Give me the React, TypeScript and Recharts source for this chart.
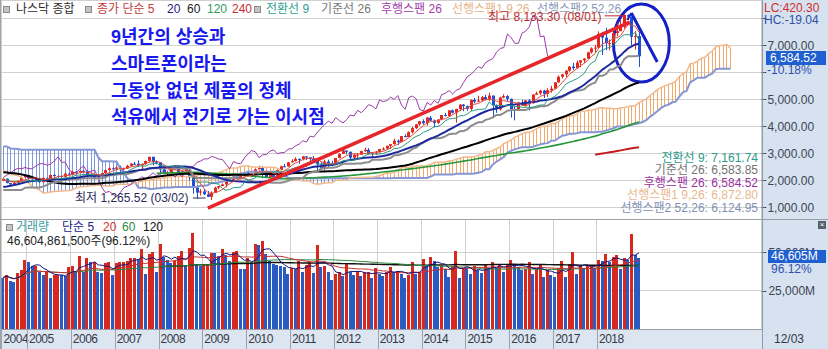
import React from "react";
import {
  Bar,
  CartesianGrid,
  ComposedChart,
  Line,
  ReferenceArea,
  ReferenceLine,
  XAxis,
  YAxis,
} from "recharts";

// 과거 구간 1998-01 ~ 2004-05 : 이평선 / 일목균형표 계산에만 쓰인다
const preHigh = [
  1621, 1776, 1840, 1912, 1868, 1897, 2014, 1880, 1761, 1772, 1955, 2200,
  2533, 2538, 2488, 2652, 2626, 2693, 2864, 2740, 2887, 2973, 3451, 4091,
  4303, 4697, 5132, 4573, 3817, 4006, 4290, 4234, 4259, 3757, 3478, 2978,
  2892, 2759, 2283, 2217, 2313, 2173, 2173, 2035, 1842, 1771, 1942, 2098,
  2059, 1926, 1929, 1863, 1721, 1667, 1496, 1427, 1344, 1346, 1494, 1522,
  1467, 1374, 1425, 1473, 1610, 1683, 1754, 1814, 1907, 1942, 1971, 2011,
  2153, 2089, 2057, 2079, 2005,
];
const preLow = [
  1465, 1617, 1735, 1820, 1743, 1748, 1852, 1460, 1560, 1357, 1765, 1895,
  2174, 2240, 2254, 2404, 2356, 2383, 2638, 2491, 2680, 2622, 2966, 3366,
  3712, 3885, 4407, 3227, 3042, 3390, 3644, 3686, 3569, 3026, 2561, 2288,
  2251, 2151, 1794, 1619, 2035, 1973, 1960, 1791, 1387, 1480, 1685, 1904,
  1893, 1696, 1713, 1672, 1562, 1375, 1206, 1192, 1160, 1108, 1317, 1320,
  1320, 1271, 1253, 1336, 1448, 1566, 1623, 1658, 1760, 1785, 1879, 1901,
  2002, 2005, 1898, 1915, 1876,
];
const preClose = [
  1619, 1771, 1836, 1868, 1779, 1895, 1872, 1499, 1694, 1771, 1950, 2193,
  2506, 2288, 2461, 2543, 2471, 2686, 2638, 2739, 2746, 2966, 3336, 4069,
  3940, 4697, 4573, 3861, 3401, 3966, 3767, 4206, 3673, 3370, 2598, 2471,
  2773, 2152, 1840, 2116, 2110, 2161, 2027, 1805, 1499, 1690, 1931, 1950,
  1934, 1731, 1845, 1688, 1616, 1463, 1328, 1315, 1172, 1330, 1479, 1336,
  1321, 1338, 1341, 1464, 1596, 1623, 1735, 1810, 1787, 1932, 1960, 2003,
  2066, 2030, 1994, 1920, 1987,
];

// 화면 구간 2004-06 ~ 2018-12 월봉 (나스닥 종합)
const open = [
  1987, 2048, 1887, 1838, 1897, 1975, 2097,
  2175, 2062, 2052, 1999, 1922, 2068, 2057, 2185, 2152, 2152, 2120, 2233,
  2205, 2306, 2281, 2340, 2323, 2179, 2172, 2091, 2184, 2258, 2367, 2432,
  2415, 2464, 2416, 2422, 2525, 2605, 2603, 2546, 2596, 2702, 2859, 2661,
  2652, 2390, 2271, 2279, 2413, 2523, 2293, 2326, 2368, 2092, 1721, 1536,
  1577, 1476, 1378, 1529, 1717, 1774, 1835, 1979, 2009, 2122, 2045, 2145,
  2269, 2147, 2238, 2398, 2461, 2257, 2109, 2255, 2114, 2369, 2507, 2498,
  2653, 2700, 2782, 2781, 2874, 2835, 2774, 2756, 2579, 2415, 2684, 2620,
  2605, 2814, 2967, 3092, 3046, 2827, 2935, 2940, 3067, 3116, 2977, 3010,
  3020, 3142, 3160, 3268, 3329, 3456, 3403, 3626, 3590, 3771, 3920, 4060,
  4177, 4104, 4308, 4199, 4115, 4243, 4408, 4370, 4580, 4493, 4631, 4792,
  4736, 4635, 4964, 4901, 4941, 5070, 4987, 5128, 4777, 4620, 5054, 5109,
  5007, 4614, 4558, 4870, 4775, 4948, 4843, 5162, 5213, 5312, 5189, 5324,
  5383, 5615, 5825, 5912, 6048, 6199, 6140, 6348, 6429, 6496, 6728, 6874,
  6903, 7411, 7273, 7063, 7066, 7442, 7510, 7672, 8110, 8046, 7306, 7331,
];
const high = [
  2057, 2064, 1887, 1925, 1983, 2104, 2178,
  2191, 2096, 2084, 2010, 2102, 2098, 2198, 2219, 2179, 2163, 2272, 2278,
  2333, 2310, 2341, 2375, 2352, 2196, 2180, 2184, 2274, 2379, 2468, 2470,
  2509, 2531, 2454, 2561, 2626, 2670, 2724, 2613, 2716, 2861, 2861, 2725,
  2661, 2419, 2343, 2429, 2551, 2549, 2357, 2473, 2421, 2099, 1810, 1665,
  1667, 1592, 1582, 1749, 1775, 1876, 1980, 2042, 2167, 2190, 2195, 2295,
  2326, 2243, 2423, 2535, 2517, 2359, 2283, 2302, 2382, 2532, 2592, 2671,
  2766, 2840, 2799, 2887, 2875, 2834, 2887, 2754, 2664, 2755, 2753, 2715,
  2818, 2983, 3134, 3094, 3051, 2946, 2982, 3083, 3196, 3183, 3024, 3070,
  3154, 3213, 3270, 3332, 3532, 3502, 3631, 3694, 3799, 3970, 4069, 4177,
  4246, 4342, 4371, 4243, 4248, 4409, 4486, 4580, 4611, 4641, 4810, 4815,
  4766, 4984, 5042, 5119, 5111, 5160, 5232, 5119, 4800, 5085, 5176, 5143,
  5013, 4714, 4897, 4970, 4965, 5000, 5180, 5271, 5343, 5342, 5399, 5487,
  5620, 5867, 5929, 6075, 6219, 6342, 6422, 6445, 6507, 6749, 6914, 7004,
  7505, 7489, 7637, 7210, 7479, 7806, 7933, 8133.3, 8133, 8048, 7522, 7486,
];
const low = [
  1962, 1876, 1750, 1822, 1889, 1967, 2078,
  2030, 2030, 1984, 1890, 1914, 2043, 2051, 2133, 2090, 2026, 2109, 2200,
  2190, 2233, 2260, 2296, 2119, 2065, 2012, 2056, 2165, 2243, 2344, 2400,
  2395, 2310, 2331, 2412, 2505, 2557, 2490, 2386, 2555, 2673, 2539, 2575,
  2202, 2252, 2155, 2276, 2388, 2290, 2167, 2316, 1983, 1493, 1295, 1428,
  1440, 1371, 1265.52, 1525, 1656, 1781, 1727, 1960, 1990, 2024, 2020, 2154,
  2140, 2100, 2240, 2396, 2061, 2090, 2091, 2100, 2113, 2356, 2475, 2498,
  2652, 2687, 2603, 2730, 2738, 2629, 2707, 2298, 2380, 2335, 2441, 2519,
  2603, 2802, 2958, 2950, 2726, 2747, 2811, 2929, 3044, 2940, 2810, 2939,
  3020, 3104, 3160, 3154, 3313, 3294, 3403, 3584, 3591, 3725, 3897, 4008,
  4052, 4007, 4174, 3946, 4070, 4213, 4355, 4349, 4465, 4116.6, 4567, 4547,
  4563, 4563, 4842, 4897, 4931, 4948, 4924, 4292, 4487, 4569, 5026, 4906,
  4313, 4209.76, 4555, 4770, 4714, 4574, 4834, 5153, 5148, 5034, 5071, 5236,
  5383, 5605, 5762, 5802, 6007, 6083, 6126, 6177, 6336, 6500, 6681, 6733,
  6903, 6630, 6804, 6805, 7043, 7330, 7512, 7609, 7924, 6987, 6830, 6190,
];
const close = [
  2048, 1887, 1838, 1897, 1975, 2097, 2175,
  2062, 2052, 1999, 1922, 2068, 2057, 2185, 2152, 2152, 2120, 2233, 2205,
  2306, 2281, 2340, 2323, 2179, 2172, 2091, 2184, 2258, 2367, 2432, 2415,
  2464, 2416, 2422, 2525, 2605, 2603, 2546, 2596, 2702, 2859, 2661, 2652,
  2390, 2271, 2279, 2413, 2523, 2293, 2326, 2368, 2092, 1721, 1536, 1577,
  1476, 1378, 1529, 1717, 1774, 1835, 1979, 2009, 2122, 2045, 2145, 2269,
  2147, 2238, 2398, 2461, 2257, 2109, 2255, 2114, 2369, 2507, 2498, 2653,
  2700, 2782, 2781, 2874, 2835, 2774, 2756, 2579, 2415, 2684, 2620, 2605,
  2814, 2967, 3092, 3046, 2827, 2935, 2940, 3067, 3116, 2977, 3010, 3020,
  3142, 3160, 3268, 3329, 3456, 3403, 3626, 3590, 3771, 3920, 4060, 4177,
  4104, 4308, 4199, 4115, 4243, 4408, 4370, 4580, 4493, 4631, 4792, 4736,
  4635, 4964, 4901, 4941, 5070, 4987, 5128, 4777, 4620, 5054, 5109, 5007,
  4614, 4558, 4870, 4775, 4948, 4843, 5162, 5213, 5312, 5189, 5324, 5383,
  5615, 5825, 5912, 6048, 6199, 6140, 6348, 6429, 6496, 6728, 6874, 6903,
  7411, 7273, 7063, 7066, 7442, 7510, 7672, 8110, 8046, 7306, 7331, 6584.52,
];

// 월 거래량 (백만주)
const volume = [
  33600, 35300, 31400, 31000, 36400, 38600, 45200, 43700, 40800, 41200,
  37500, 35300, 37500, 33100, 35300, 35500, 35000, 34600, 40200, 41000,
  37500, 47800, 37500, 46300, 43700, 44000, 37500, 36800, 43000, 43500,
  35300, 43000, 43700, 43800, 44100, 46300, 46400, 46000, 52400, 35800,
  48900, 50200, 37500, 55700, 46700, 45200, 43000, 44100, 47400, 51100,
  41900, 52900, 62700, 42300, 40800, 42300, 42400, 49600,
  49500, 47400, 52400, 48500, 44500, 50200, 51100, 39300, 39200, 46300,
  43700, 55700, 55100, 57700, 48900, 44100, 42300, 41900, 40800, 40700,
  35800, 39700, 39300, 44500, 37500, 41500, 43700, 36400, 55100, 40500,
  40800, 37100, 32000, 35800, 37500, 34900, 42300, 37500, 35300, 38000,
  34900, 37100, 37200, 33600, 39700, 35800, 34900, 37100, 40200, 37500,
  37600, 35800, 33100, 35300, 43700, 35800, 37500, 45900, 40800,
  47000, 44500, 40200, 40800, 39300, 33800, 40800, 50700, 33100, 39700,
  39600, 35800, 40800, 38600, 36400, 41500, 39700, 43700, 39700, 41900,
  37500, 41500, 45200, 41900, 40200, 38600, 39300, 43700, 35800, 39300,
  41500, 34200, 38600, 35300, 34200, 39700, 44500, 33800, 42300, 50200,
  35800, 41500, 39700, 41900, 42000, 39700, 45200, 44100, 48900, 43700,
  47000, 48500, 39300, 46300, 45200, 62000, 48486, 46605,
];

const yearLabels = [
  "2004", "2005", "2006", "2007", "2008", "2009", "2010", "2011",
  "2012", "2013", "2014", "2015", "2016", "2017", "2018",
];
const priceTicks = [1000, 2000, 3000, 4000, 5000, 6000, 7000, 8000];
const volumeTicks = [25000, 50000];

const SLOTS = 208; // 선행스팬 26개월 공간까지
const SHIFT = 25;
const PRE = preClose.length;
const fullH = [...preHigh, ...high];
const fullL = [...preLow, ...low];
const fullC = [...preClose, ...close];

const NUM = "'Liberation Sans', Arial, sans-serif";
const KR = "'Liberation Sans', 'Noto Sans CJK KR', sans-serif";

function sma(arr: number[], n: number, i: number) {
  if (i - n + 1 < 0 || i >= arr.length) return null;
  let s = 0;
  for (let k = i - n + 1; k <= i; k++) s += arr[k];
  return s / n;
}

function midHL(n: number, i: number) {
  if (i - n + 1 < 0 || i >= fullH.length) return null;
  let hi = -Infinity;
  let lo = Infinity;
  for (let k = i - n + 1; k <= i; k++) {
    hi = Math.max(hi, fullH[k]);
    lo = Math.min(lo, fullL[k]);
  }
  return (hi + lo) / 2;
}

// 거래량 이평: 앞쪽은 있는 만큼만 평균
function volMa(n: number, v: number, minCount: number) {
  if (v >= volume.length) return null;
  const from = Math.max(0, v - n + 1);
  if (v - from + 1 < minCount) return null;
  let s = 0;
  for (let k = from; k <= v; k++) s += volume[k];
  return s / (v - from + 1);
}

const monthOf = (v: number) => ((v + 5) % 12) + 1;

const rows = Array.from({ length: SLOTS }, (_, v) => {
  const f = v + PRE;
  const has = v < close.length;
  const c9 = midHL(9, f - SHIFT);
  const b26 = midHL(26, f - SHIFT);
  const s1 = c9 != null && b26 != null ? (c9 + b26) / 2 : null;
  const s2 = midHL(52, f - SHIFT);
  return {
    i: v,
    o: has ? open[v] : null,
    h: has ? high[v] : null,
    l: has ? low[v] : null,
    c: has ? close[v] : null,
    hl: has ? [low[v], high[v]] : null,
    ma5: has ? sma(fullC, 5, f) : null,
    ma20: has ? sma(fullC, 20, f) : null,
    ma60: has ? sma(fullC, 60, f) : null,
    ma120: has ? sma(fullC, 120, f) : null,
    ma240: has ? sma(fullC, 240, f) : null,
    conv: has ? midHL(9, f) : null,
    base: has ? midHL(26, f) : null,
    lag: f + SHIFT < fullC.length ? fullC[f + SHIFT] : null,
    s1,
    s2,
    cloud: s1 != null && s2 != null ? [Math.min(s1, s2), Math.max(s1, s2)] : null,
    cloudUp: s1 != null && s2 != null && s1 >= s2,
    vol: has ? volume[v] : null,
    volUp: has && v > 0 && volume[v] >= volume[v - 1],
    v5: volMa(5, v, 1),
    v20: volMa(20, v, 1),
    v60: volMa(60, v, 1),
    v120: volMa(120, v, 44),
  };
});

const yearTicks = rows
  .filter((r) => r.i === 0 || monthOf(r.i) === 1)
  .map((r) => r.i - 0.5)
  .slice(0, yearLabels.length);

const priceMinor: number[] = [];
for (let p = 750; p <= 8500; p += 250) priceMinor.push(p);
const volMinor: number[] = [];
for (let p = 6250; p <= 68750; p += 6250) volMinor.push(p);

const PRICE_DOMAIN = [555.6, 8666.7];
const VOL_DOMAIN = [0, 71800];
const X_DOMAIN = [-0.5, SLOTS - 0.5];

const fmt2 = (v: number) =>
  v.toLocaleString("en-US", { minimumFractionDigits: 2, maximumFractionDigits: 2 });

function PriceTick(props: any) {
  const { x, y, payload } = props;
  const v = payload.value;
  const show = v !== 6000 && v !== 8000;
  return (
    <g>
      <line x1={x} x2={x + 5} y1={Math.round(y) + 0.5} y2={Math.round(y) + 0.5} stroke="#4a5162" />
      {show && (
        <text x={x + 6} y={y + 4.5} fontSize={12} fill="#3e4455" fontFamily={NUM}>
          {fmt2(v)}
        </text>
      )}
    </g>
  );
}

function VolTick(props: any) {
  const { x, y, payload } = props;
  return (
    <g>
      <line x1={x} x2={x + 5} y1={Math.round(y) + 0.5} y2={Math.round(y) + 0.5} stroke="#4a5162" />
      <text x={x + 7} y={y + 4.5} fontSize={12} fill="#3e4455" fontFamily={NUM}>
        {payload.value.toLocaleString("en-US")}M
      </text>
    </g>
  );
}

function MinorTick(props: any) {
  const { x, y } = props;
  return <line x1={x} x2={x + 3} y1={Math.round(y) + 0.5} y2={Math.round(y) + 0.5} stroke="#6a7384" />;
}

function YearTick(props: any) {
  const { x, y, payload } = props;
  const idx = yearTicks.indexOf(payload.value);
  const xx = Math.round(x) + 0.5;
  return (
    <g>
      <line x1={xx} x2={xx} y1={y} y2={y + 20} stroke="#98a2b2" />
      <text x={x + 2} y={y + 14} fontSize={12} fill="#333a48" fontFamily={NUM} letterSpacing={-0.5}>
        {yearLabels[idx] ?? ""}
      </text>
    </g>
  );
}

function Candle(props: any) {
  const { x, y, width, height, payload } = props;
  if (!payload || payload.c == null || !isFinite(y)) return null;
  const { o, h, l, c } = payload;
  const span = h - l || 1;
  const py = (val: number) => y + ((h - val) / span) * height;
  const cx = Math.round(x + width / 2) + 0.5;
  const up = c >= o;
  const color = up ? "#e5261d" : "#1f4fd4";
  const top = Math.min(py(o), py(c));
  const bh = Math.max(1, Math.abs(py(o) - py(c)));
  return (
    <g>
      <line x1={cx} x2={cx} y1={y} y2={y + height} stroke={color} />
      <rect x={cx - 1.5} y={top} width={3} height={bh} fill={color} />
    </g>
  );
}

function Hatch(props: any) {
  const { x, y, width, height, payload } = props;
  if (!payload || !payload.cloud || !isFinite(y)) return null;
  const cx = Math.round(x + width / 2) + 0.5;
  return (
    <line
      x1={cx}
      x2={cx}
      y1={y}
      y2={y + height}
      stroke={payload.cloudUp ? "#f2aa6c" : "#7f98d8"}
      shapeRendering="crispEdges"
    />
  );
}

function VolBar(props: any) {
  const { x, y, width, height, payload } = props;
  if (!payload || payload.vol == null || !isFinite(y)) return null;
  const left = Math.round(x + width / 2 - 1.5);
  return (
    <rect
      x={left}
      y={y}
      width={3}
      height={height}
      fill={payload.volUp ? "#d8281e" : "#2a5bc2"}
      shapeRendering="crispEdges"
    />
  );
}

const Ellipse = (p: any) => (
  <ellipse
    cx={p.x + p.width / 2}
    cy={p.y + p.height / 2}
    rx={Math.abs(p.width / 2)}
    ry={Math.abs(p.height / 2)}
    fill="none"
    stroke="#1220c6"
    strokeWidth={3}
  />
);

const css = `
.crisp .recharts-cartesian-grid line { shape-rendering: crispEdges; }
`;

const abs = (left: number, top: number, extra: React.CSSProperties = {}): React.CSSProperties => ({
  position: "absolute",
  left,
  top,
  whiteSpace: "nowrap",
  fontSize: 12,
  lineHeight: "14px",
  ...extra,
});

const Sq = ({ left, top }: { left: number; top: number }) => (
  <div
    style={{
      position: "absolute",
      left,
      top,
      width: 5,
      height: 5,
      background: "#c4c4c4",
      border: "1px solid #8a8a8a",
    }}
  />
);

const lineProps = { dot: false, isAnimationActive: false, type: "linear" as const, activeDot: false };

export default function App() {
  return (
    <div
      style={{
        position: "absolute",
        left: 0,
        top: 0,
        width: 828,
        height: 349,
        background: "#ffffff",
        overflow: "hidden",
        fontFamily: KR,
      }}
    >
      <style>{css}</style>
      <div style={{ position: "absolute", left: 762, top: 0, width: 66, height: 349, background: "#d6e2ef" }} />
      <div style={{ position: "absolute", left: 0, top: 329, width: 762, height: 20, background: "#dce5f0" }} />

      <div className="crisp" style={{ position: "absolute", left: 0, top: 0 }}>
        <ComposedChart width={828} height={219} data={rows} margin={{ top: 0, right: 0, bottom: 0, left: 1.4 }}>
          <CartesianGrid stroke="#d0d0d0" />
          <XAxis
            dataKey="i"
            type="number"
            domain={X_DOMAIN}
            ticks={yearTicks}
            interval={0}
            height={0}
            tick={false}
            axisLine={false}
            tickLine={false}
            allowDataOverflow
          />
          <XAxis xAxisId="c" dataKey="i" type="number" domain={X_DOMAIN} hide allowDataOverflow />
          <YAxis
            yAxisId="m"
            orientation="right"
            width={0}
            domain={PRICE_DOMAIN}
            ticks={priceMinor}
            interval={0}
            tick={<MinorTick />}
            tickSize={0}
            tickMargin={0}
            axisLine={false}
            tickLine={false}
            allowDataOverflow
          />
          <YAxis
            orientation="right"
            width={66.6}
            domain={PRICE_DOMAIN}
            ticks={priceTicks}
            interval={0}
            tick={<PriceTick />}
            tickSize={0}
            tickMargin={0}
            axisLine={false}
            tickLine={false}
            allowDataOverflow
          />

          <Bar dataKey={(r: any) => r.cloud} barSize={1} shape={<Hatch />} isAnimationActive={false} />
          <Line dataKey="s2" stroke="#8496d6" strokeWidth={2} {...lineProps} />
          <Line dataKey="s1" stroke="#f2b98c" strokeWidth={1.5} {...lineProps} />
          <Line dataKey="lag" stroke="#9a3aa8" strokeWidth={1} {...lineProps} />
          <Line dataKey="ma120" stroke="#27973a" strokeWidth={1.6} {...lineProps} />
          <Line dataKey="ma240" stroke="#c41c1c" strokeWidth={2} {...lineProps} />
          <Line dataKey="ma60" stroke="#000000" strokeWidth={2} {...lineProps} />
          <Line dataKey="base" stroke="#8c8c8c" strokeWidth={2} {...lineProps} />
          <Line dataKey="ma20" stroke="#1c2a9e" strokeWidth={2} {...lineProps} />
          <Line dataKey="conv" stroke="#2b9b82" strokeWidth={1} {...lineProps} />
          <Line dataKey="ma5" stroke="#e24a3a" strokeWidth={1} {...lineProps} />
          <Bar
            xAxisId="c"
            dataKey={(r: any) => r.hl}
            barSize={3}
            shape={<Candle />}
            isAnimationActive={false}
          />

          <ReferenceLine
            segment={[{ x: 56, y: 960 }, { x: 171.5, y: 7850 }]}
            stroke="#e6262b"
            strokeWidth={3.5}
            ifOverflow="visible"
          />
          <ReferenceLine
            segment={[{ x: 164.6, y: 8080 }, { x: 169.8, y: 8080 }]}
            stroke="#c0282c"
            strokeWidth={1}
            ifOverflow="visible"
          />
          <ReferenceLine
            segment={[{ x: 51.9, y: 1333 }, { x: 55.4, y: 1333 }]}
            stroke="#282858"
            strokeWidth={1}
            ifOverflow="visible"
          />
          <ReferenceArea x1={167} x2={182.3} y1={5630} y2={8519} ifOverflow="visible" shape={Ellipse} />
          <ReferenceLine
            segment={[{ x: 171.9, y: 8185 }, { x: 179, y: 6370 }]}
            stroke="#1220c6"
            strokeWidth={3}
            ifOverflow="visible"
          />
          <ReferenceLine
            segment={[{ x: 171.9, y: 8185 }, { x: 170.8, y: 7926 }]}
            stroke="#1220c6"
            strokeWidth={2}
            ifOverflow="visible"
          />
        </ComposedChart>
      </div>

      <div className="crisp" style={{ position: "absolute", left: 0, top: 219 }}>
        <ComposedChart width={828} height={130} data={rows} margin={{ top: 0, right: 0, bottom: 0, left: 1.4 }}>
          <CartesianGrid stroke="#d0d0d0" />
          <XAxis
            dataKey="i"
            type="number"
            domain={X_DOMAIN}
            ticks={yearTicks}
            interval={0}
            height={20}
            tick={<YearTick />}
            tickSize={0}
            tickMargin={0}
            axisLine={false}
            tickLine={false}
            allowDataOverflow
          />
          <YAxis
            yAxisId="m"
            orientation="right"
            width={0}
            domain={VOL_DOMAIN}
            ticks={volMinor}
            interval={0}
            tick={<MinorTick />}
            tickSize={0}
            tickMargin={0}
            axisLine={false}
            tickLine={false}
            allowDataOverflow
          />
          <YAxis
            orientation="right"
            width={66.6}
            domain={VOL_DOMAIN}
            ticks={volumeTicks}
            interval={0}
            tick={<VolTick />}
            tickSize={0}
            tickMargin={0}
            axisLine={false}
            tickLine={false}
            allowDataOverflow
          />
          <Bar dataKey="vol" barSize={3} shape={<VolBar />} isAnimationActive={false} />
          <Line dataKey="v120" stroke="#111111" strokeWidth={1.4} {...lineProps} />
          <Line dataKey="v60" stroke="#2a8a3c" strokeWidth={1} {...lineProps} />
          <Line dataKey="v20" stroke="#c83030" strokeWidth={1} {...lineProps} />
          <Line dataKey="v5" stroke="#14147e" strokeWidth={1} {...lineProps} />
        </ComposedChart>
      </div>

      {/* 테두리 */}
      <div style={{ position: "absolute", left: 0, top: 0, width: 1, height: 349, background: "#a3a3a3" }} />
      <div style={{ position: "absolute", left: 762, top: 0, width: 1, height: 349, background: "#8e9aac" }} />
      <div style={{ position: "absolute", left: 0, top: 219, width: 828, height: 1, background: "#9aa0aa" }} />
      <div style={{ position: "absolute", left: 0, top: 329, width: 762, height: 1, background: "#9aa0aa" }} />

      {/* 상단 범례 */}
      <Sq left={3} top={6} />
      <div style={abs(16, 2, { color: "#2a2a2a" })}>나스닥 종합</div>
      <Sq left={85} top={6} />
      <div style={abs(97, 2, { color: "#c23a3a" })}>종가 단순 5</div>
      <div style={abs(167, 2, { color: "#1c1c7c" })}>20</div>
      <div style={abs(187, 2, { color: "#222222" })}>60</div>
      <div style={abs(207, 2, { color: "#2e9a5e" })}>120</div>
      <div style={abs(232, 2, { color: "#c83030" })}>240</div>
      <Sq left={254} top={6} />
      <div style={abs(266, 2, { color: "#2f9f8f" })}>전환선 9</div>
      <div style={abs(321, 2, { color: "#777777" })}>기준선 26</div>
      <div style={abs(381, 2, { color: "#a040a8" })}>후행스팬 26</div>
      <div style={abs(452, 2, { color: "#e6b48c" })}>선행스팬1 9,26</div>
      <div style={abs(537, 2, { color: "#8898b8" })}>선행스팬2 52,26</div>

      {/* 손글씨 주석 */}
      {["9년간의 상승과", "스마트폰이라는", "그동안 없던 제품의 정체", "석유에서 전기로 가는 이시점"].map(
        (t, k) => (
          <div
            key={t}
            style={abs(111, 25 + k * 26.8, {
              fontSize: 18,
              lineHeight: "24px",
              fontWeight: 700,
              color: "#1818f0",
            })}
          >
            {t}
          </div>
        )
      )}

      <div style={abs(488, 10, { color: "#be2a2e" })}>최고 8,133.30 (08/01)</div>
      <div style={abs(75, 191, { color: "#2a2a5a" })}>최저 1,265.52 (03/02)</div>

      {/* 일목 값 */}
      <div
        style={{
          position: "absolute",
          right: 70,
          top: 151.5,
          textAlign: "right",
          fontSize: 12,
          lineHeight: "12.5px",
          whiteSpace: "nowrap",
        }}
      >
        <div style={{ color: "#2a9a8a" }}>전환선 9: 7,161.74</div>
        <div style={{ color: "#727272" }}>기준선 26: 6,583.85</div>
        <div style={{ color: "#9a30a0" }}>후행스팬 26: 6,584.52</div>
        <div style={{ color: "#e8b890" }}>선행스팬1 9,26: 6,872.80</div>
        <div style={{ color: "#8090b2" }}>선행스팬2 52,26: 6,124.95</div>
      </div>

      {/* 거래량 범례 */}
      <Sq left={6} top={224} />
      <div style={abs(16, 220, { color: "#3a9aa0" })}>거래량</div>
      <div style={abs(62, 220, { color: "#20208a" })}>단순 5</div>
      <div style={abs(103, 220, { color: "#d03030" })}>20</div>
      <div style={abs(122, 220, { color: "#2a8a40" })}>60</div>
      <div style={abs(143, 220, { color: "#111111" })}>120</div>
      <div style={abs(7, 234, { color: "#222222" })}>46,604,861,500주(96.12%)</div>

      {/* 우측 패널 */}
      <div style={abs(764, 1, { color: "#d42e2e", fontFamily: NUM })}>LC:420.30</div>
      <div style={abs(764, 13, { color: "#3050a8", fontFamily: NUM })}>HC:-19.04</div>
      <div
        style={abs(766, 51, {
          width: 60,
          height: 14,
          background: "#1f5fcf",
          color: "#ffffff",
          fontFamily: NUM,
          paddingLeft: 4,
          boxSizing: "border-box",
        })}
      >
        6,584.52
      </div>
      <div style={abs(767, 63, { color: "#3050b0", fontFamily: NUM })}>-10.18%</div>
      <div
        style={abs(768, 250, {
          width: 58,
          height: 13,
          background: "#1f5fcf",
          color: "#ffffff",
          fontFamily: NUM,
          paddingLeft: 3,
          lineHeight: "13px",
          boxSizing: "border-box",
        })}
      >
        46,605M
      </div>
      <div style={abs(771, 262, { color: "#3050b0", fontFamily: NUM })}>96.12%</div>
      <div style={abs(774, 332, { color: "#333a48", fontFamily: NUM })}>12/03</div>
      <div
        style={{
          position: "absolute",
          left: 818,
          top: 221,
          width: 8,
          height: 8,
          background: "#5a5f68",
          color: "#fff",
          fontSize: 8,
          lineHeight: "8px",
          textAlign: "center",
          fontFamily: NUM,
        }}
      >
        ×
      </div>
    </div>
  );
}
